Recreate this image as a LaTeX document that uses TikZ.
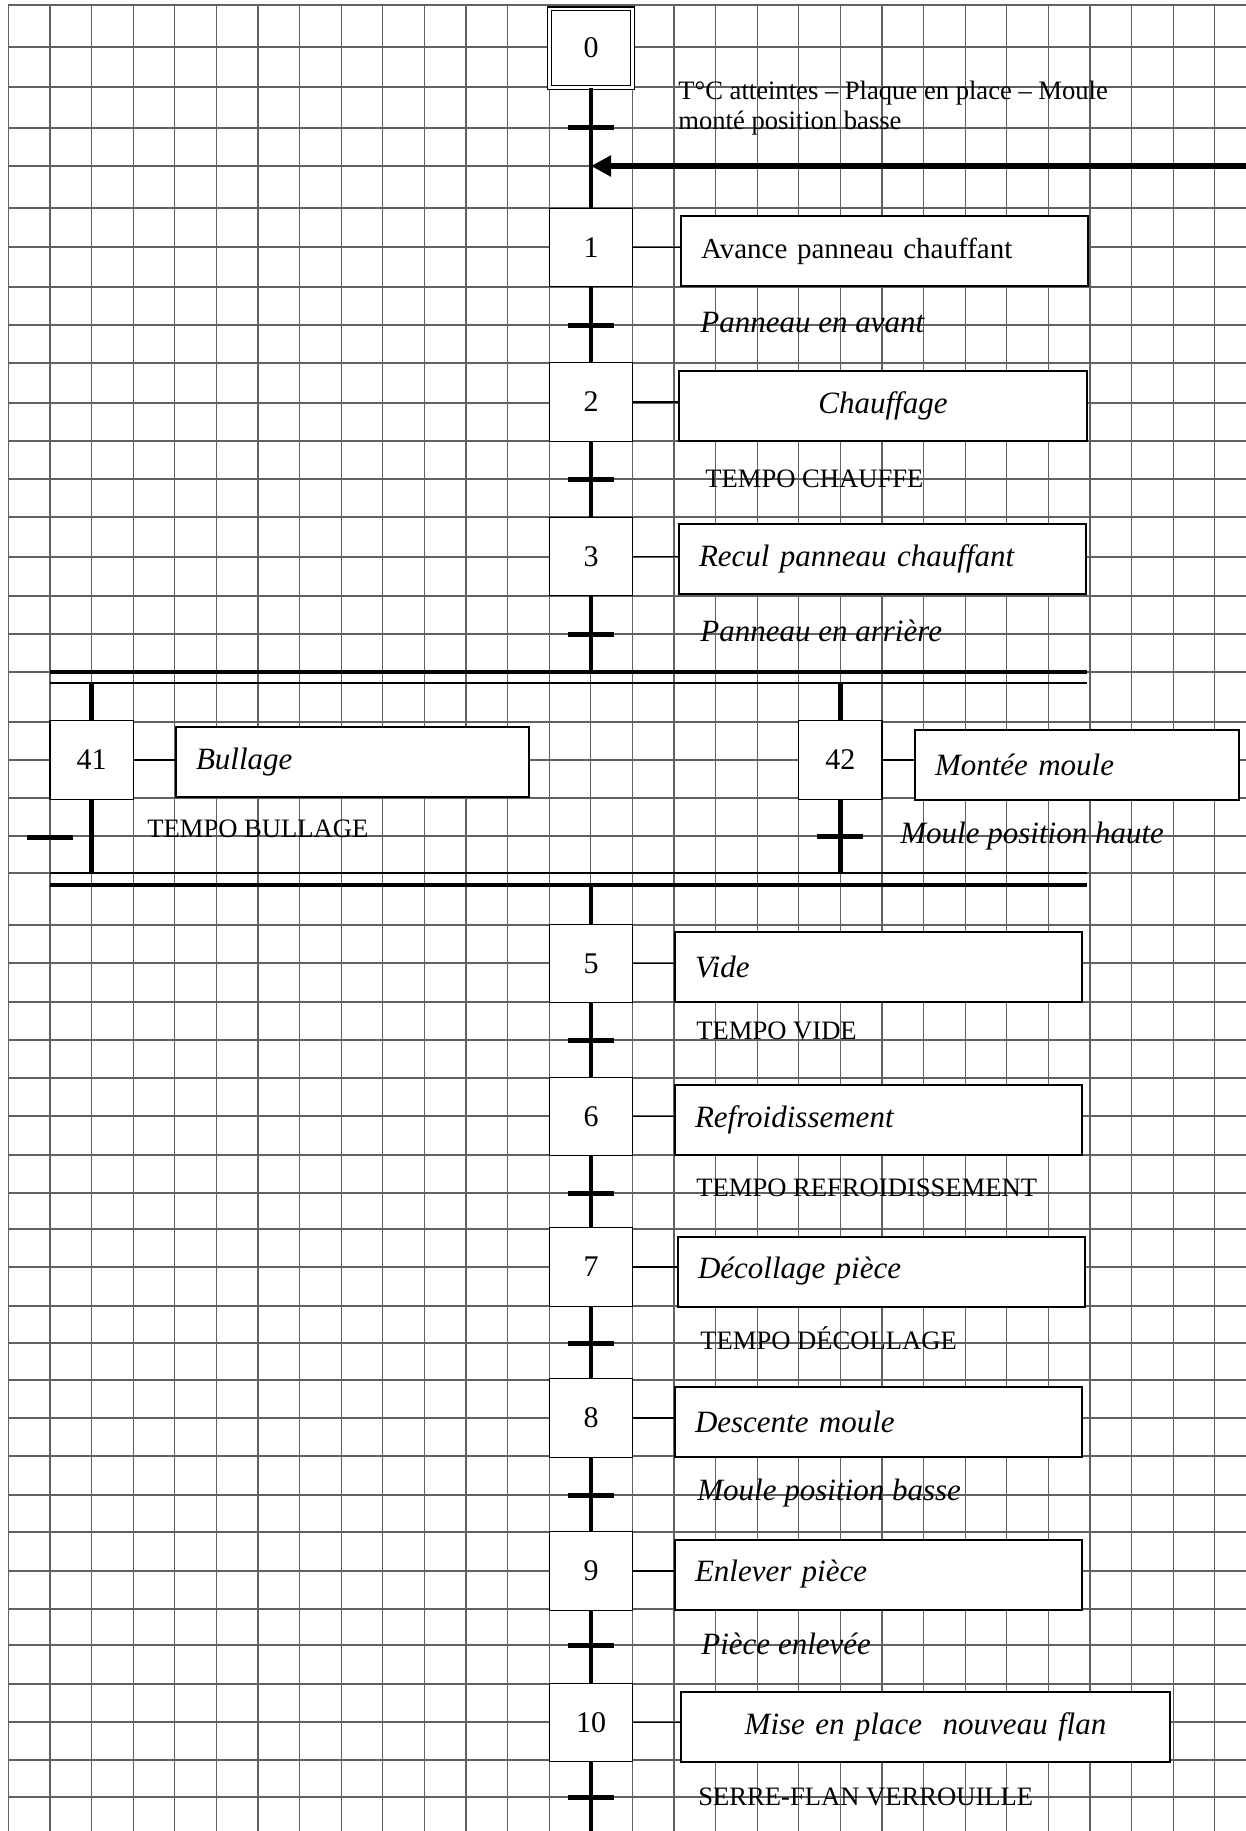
\documentclass[tikz,border=0pt]{standalone}
\usepackage{fontspec}
\setmainfont{Liberation Serif}
\usetikzlibrary{arrows.meta}
\newcommand\fgrand{\fontsize{15}{18}\selectfont}
\newcommand\fdroit{\fontsize{14.5}{17}\selectfont}
\newcommand\fital{\fontsize{15.5}{18}\selectfont\itshape}
\newcommand\fpetit{\fontsize{13.3}{15}\selectfont}

\begin{document}
\begin{tikzpicture}[x=0.5pt,y=-0.5pt,
  grille/.style={black!62,line width=0.6pt},
  etape/.style={draw,fill=white,line width=0.6pt,minimum width=41.6pt,minimum height=39.3pt,inner sep=0pt,font=\fgrand},
  action/.style={draw,fill=white,line width=1pt,anchor=west,minimum height=35pt,inner xsep=10pt,inner ysep=0pt,text width=#1,align=left,font=\fital},
  action/.default=183.5pt,
  lien/.style={line width=2.2pt},
  trait/.style={line width=0.7pt},
  barre/.style={line width=2.5pt},
  recept/.style={anchor=west,inner sep=0pt,font=\fpetit},
  receptit/.style={anchor=west,inner sep=0pt,font=\fital}]
\useasboundingbox (0,0) rectangle (1246,1831);
% fond quadrille
\foreach \k in {0,...,29}
  \draw[grille] ({8.3+41.6*\k},5) -- ({8.3+41.6*\k},1831);
\foreach \y in {5,47,87,128,166,208,247,287,325,363,403,441,479,517,557,596,634,672,722,760,798,836,873,925,963,1002,1040,1078,1116,1155,1193,1229,1267,1306,1343,1380,1418,1456,1495,1532,1571,1609,1645,1684,1722,1760,1797}
  \draw[grille] (8,\y) -- (1246,\y);

% etapes
\node[etape,double,double distance=1.2pt] (s0) at (591,48) {0};
\node[etape] (s1) at (591,247.5) {1};
\node[etape] (s2) at (591,402) {2};
\node[etape] (s3) at (591,556.5) {3};
\node[etape] (s41) at (91.5,760) {41};
\node[etape] (s42) at (840.3,760) {42};
\node[etape] (s5) at (591,963.5) {5};
\node[etape] (s6) at (591,1116.5) {6};
\node[etape] (s7) at (591,1267) {7};
\node[etape] (s8) at (591,1418) {8};
\node[etape] (s9) at (591,1571) {9};
\node[etape] (s10) at (591,1722.5) {10};

% actions
\node[action,font=\fdroit] (a1) at (680,251) {Avance panneau chauffant};
\node[action=184pt,align=center] (a2) at (678,405.5) {Chauffage};
\node[action] (a3) at (678,559) {Recul panneau chauffant};
\node[action=156.5pt] (a41) at (175,762) {Bullage};
\node[action=142pt] (a42) at (914,765) {Mont\'ee moule};
\node[action] (a5) at (674,966.5) {Vide};
\node[action] (a6) at (674,1120) {Refroidissement};
\node[action] (a7) at (677,1271.5) {D\'ecollage pi\`ece};
\node[action] (a8) at (674,1421.5) {Descente moule};
\node[action] (a9) at (674,1574.5) {Enlever pi\`ece};
\node[action=224.5pt,align=center] (a10) at (680,1727) {Mise en place\ \ nouveau flan};
\foreach \e in {1,2,3,41,42,5,6,7,8,9,10}
  \draw[trait] (s\e.east) -- (s\e.east -| a\e.west);

% transitions
\coordinate (t0) at (591,127);
\coordinate (t1) at (591,325);
\coordinate (t2) at (591,479);
\coordinate (t3) at (591,634);
\coordinate (t41) at (91.5,837);
\coordinate (t42) at (840.3,836);
\coordinate (t5) at (591,1040);
\coordinate (t6) at (591,1193);
\coordinate (t7) at (591,1343);
\coordinate (t8) at (591,1495);
\coordinate (t9) at (591,1645);
\coordinate (t10) at (591,1797);
\foreach \t in {t0,t1,t2,t3,t42,t5,t6,t7,t8,t9,t10}
  \draw[barre] ([xshift=-11.5pt]\t) -- ([xshift=11.5pt]\t);
\draw[barre] ([xshift=-32.2pt]t41) -- ([xshift=-9.2pt]t41);

\node[recept,align=left] (r0) at (678,108) {T°C atteintes – Plaque en place – Moule\\mont\'e position basse};
\node[receptit] (r1) at (700,323) {Panneau en avant};
\node[recept] (r2) at (705,479) {TEMPO CHAUFFE};
\node[receptit] (r3) at (700,631) {Panneau en arri\`ere};
\node[recept] (r41) at (147,829) {TEMPO BULLAGE};
\node[receptit] (r42) at (900,836) {Moule position haute};
\node[recept] (r5) at (696,1031) {TEMPO VIDE};
\node[recept] (r6) at (696,1188) {TEMPO REFROIDISSEMENT};
\node[recept] (r7) at (700,1338) {TEMPO D\'ECOLLAGE};
\node[receptit] (r8) at (697,1493) {Moule position basse};
\node[receptit] (r9) at (701,1644) {Pi\`ece enlev\'ee};
\node[recept] (r10) at (698,1797) {SERRE-FLAN VERROUILLE};

% liaisons
\coordinate (retour) at (1246,166);
\coordinate (ouvH) at (591,672);
\coordinate (ouvB) at (591,683);
\coordinate (fermH) at (591,873);
\coordinate (fermB) at (591,885);
\coordinate (fin) at (591,1831);
\draw[lien] (s0) -- (s1);
\draw[line width=3pt,-{Triangle[length=10pt,width=10pt]}] (retour) -- (retour -| s0);
\draw[lien] (s1) -- (s2);
\draw[lien] (s2) -- (s3);
\draw[lien] (s3) -- (ouvH);
\draw[line width=1.6pt] (50,672) -- (1087,672);
\draw[line width=1.1pt] (50,683) -- (1087,683);
\draw[lien] (ouvB -| s41) -- (s41);
\draw[lien] (ouvB -| s42) -- (s42);
\draw[lien] (s41) -- (fermH -| s41);
\draw[lien] (s42) -- (fermH -| s42);
\draw[line width=1.1pt] (50,873) -- (1087,873);
\draw[line width=1.6pt] (50,885) -- (1087,885);
\draw[lien] (fermB) -- (s5);
\draw[lien] (s5) -- (s6);
\draw[lien] (s6) -- (s7);
\draw[lien] (s7) -- (s8);
\draw[lien] (s8) -- (s9);
\draw[lien] (s9) -- (s10);
\draw[lien] (s10) -- (fin);
\end{tikzpicture}
\end{document}
